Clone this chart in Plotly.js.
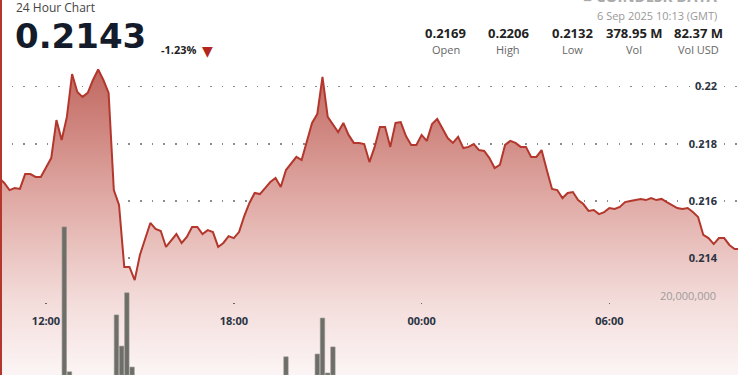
<!DOCTYPE html>
<html>
<head>
<meta charset="utf-8">
<script src="https://cdn.plot.ly/plotly-3.0.1.min.js"></script>
<style>
  html, body { margin: 0; padding: 0; background: #fff; }
  #chart { width: 738px; height: 375px; }
</style>
</head>
<body>
<div id="chart"></div>
<script>
// ---- data ----
var startTime = '2025-09-05T10:30:00';
var stepMinutes = 10;
var prices = [
  0.2168, 0.21663, 0.21638, 0.21645, 0.21642, 0.21694, 0.21694, 0.21684, 0.21684, 0.21719,
  0.2175, 0.21883, 0.21813, 0.21894, 0.22044, 0.21981, 0.21964, 0.21978, 0.22023, 0.2206,
  0.22023, 0.21978, 0.21638, 0.21586, 0.21369, 0.21369, 0.21323, 0.21411, 0.2147, 0.21523,
  0.21502, 0.21495, 0.21439, 0.2146, 0.21484, 0.21453, 0.21474, 0.21509, 0.21509, 0.21484,
  0.21498, 0.21491, 0.21439, 0.21453, 0.21477, 0.2147, 0.21491, 0.21547, 0.21593, 0.21628,
  0.21624, 0.21645, 0.21666, 0.2168, 0.21649, 0.21708, 0.21733, 0.21754, 0.21743, 0.21806,
  0.21873, 0.21904, 0.22034, 0.21894, 0.21866, 0.21841, 0.21873, 0.21831, 0.21803, 0.21803,
  0.21799, 0.21736, 0.21789, 0.21859, 0.21859, 0.21789, 0.21873, 0.21876, 0.21827, 0.21796,
  0.21796, 0.21831, 0.2181, 0.21869, 0.21887, 0.21855, 0.2182, 0.21803, 0.21824, 0.21785,
  0.21789, 0.21799, 0.21778, 0.21775, 0.2175, 0.21715, 0.21726, 0.21796, 0.2181, 0.21803,
  0.21789, 0.21789, 0.21754, 0.21754, 0.21778, 0.21708, 0.21642, 0.21638, 0.2161, 0.21628,
  0.21631, 0.21603, 0.21589, 0.21565, 0.21568, 0.21554, 0.21561, 0.21575, 0.21572, 0.21579,
  0.21596, 0.216, 0.21603, 0.21607, 0.21603, 0.2161, 0.21603, 0.21607, 0.21596, 0.21586,
  0.21575, 0.21572, 0.21575, 0.21561, 0.21544, 0.21481, 0.2147, 0.21449, 0.2147, 0.2147,
  0.21446, 0.21432, 0.21432
];
var volTimes = [
  '2025-09-05 12:35', '2025-09-05 12:45', '2025-09-05 14:15', '2025-09-05 14:25',
  '2025-09-05 14:35', '2025-09-05 14:45', '2025-09-05 19:40', '2025-09-05 20:40',
  '2025-09-05 20:50', '2025-09-05 21:00', '2025-09-05 21:10'
];
var volumes = [37.5e6, 0.8e6, 15.2e6, 7.3e6, 20.8e6, 2.0e6, 4.6e6, 5.3e6, 14.4e6, 0.5e6, 7.1e6];

var xTickVals = ['2025-09-05 12:00', '2025-09-05 18:00', '2025-09-06 00:00', '2025-09-06 06:00'];
var xTickText = ['12:00', '18:00', '00:00', '06:00'];
var priceTickVals = [0.214, 0.216, 0.218, 0.22];
var priceTickText = ['0.214', '0.216', '0.218', '0.22'];
var volTickVals = [20000000];
var volTickText = ['20,000,000'];

var statValues = ['0.2169', '0.2206', '0.2132', '378.95 M', '82.37 M'];
var statLabels = ['Open', 'High', 'Low', 'Vol', 'Vol USD'];
var headerTitle = '24 Hour Chart';
var currentPrice = '0.2143';
var changePct = '-1.23%';
var dateText = '6 Sep 2025 10:13 (GMT)';
var logoText = '\u25A0 COINDESK DATA';

// ---- build ----
var t0 = new Date(startTime + 'Z').getTime();
function fmt(ms) {
  var d = new Date(ms);
  function p(n) { return (n < 10 ? '0' : '') + n; }
  return d.getUTCFullYear() + '-' + p(d.getUTCMonth() + 1) + '-' + p(d.getUTCDate()) + ' ' +
         p(d.getUTCHours()) + ':' + p(d.getUTCMinutes());
}
var times = prices.map(function (_, i) { return fmt(t0 + i * stepMinutes * 60000); });

var W = 738, H = 375;
function px(x) { return x / W; }
function py(y) { return 1 - y / H; }

var yRange = [0.20991, 0.22303];

var priceTrace = {
  type: 'scatter', mode: 'lines', x: times, y: prices,
  line: { color: '#b3372c', width: 2 },
  fill: 'tozeroy',
  fillgradient: {
    type: 'vertical',
    start: yRange[0], stop: 0.2207,
    colorscale: [[0, '#fcf5f5'], [0.24, '#f3dcda'], [0.57, '#e0aaa5'], [1, '#c0665e']]
  },
  hoverinfo: 'skip'
};
var volTrace = {
  type: 'bar', x: volTimes, y: volumes, yaxis: 'y2',
  width: 500000,
  marker: { color: '#6e6e68', line: { width: 0.6, color: '#8f8f8a' } },
  hoverinfo: 'skip'
};

var gridDash = '1.5px,10.17px';
var anns = [];
anns.push({ text: headerTitle, x: px(15), y: py(7), xanchor: 'left', yanchor: 'middle', borderpad: 0,
  font: { family: 'Open Sans', size: 12, color: '#444' } });
anns.push({ text: '<b>' + currentPrice + '</b>', x: px(13), y: py(36), xanchor: 'left', yanchor: 'middle',
  font: { family: 'DejaVu Sans', size: 34, color: '#141c2b' } });
anns.push({ text: '<b>' + changePct + '</b>', x: px(159), y: py(50), xanchor: 'left', yanchor: 'middle',
  font: { family: 'Open Sans', size: 11, color: '#222' } });
anns.push({ text: '\u25BC', x: px(207.5), y: py(50.5), xanchor: 'center', yanchor: 'middle',
  font: { family: 'DejaVu Sans', size: 14, color: '#b3261e' } });
var statX = [445.5, 508.5, 572, 634, 698];
for (var i = 0; i < statValues.length; i++) {
  anns.push({ text: '<b>' + statValues[i] + '</b>', x: px(statX[i]), y: py(33), xanchor: 'center', yanchor: 'middle',
    font: { family: 'Open Sans', size: 13, color: '#222' } });
  anns.push({ text: statLabels[i], x: px(statX[i]), y: py(50), xanchor: 'center', yanchor: 'middle',
    font: { family: 'Open Sans', size: 11, color: '#666' } });
}
anns.push({ text: dateText, x: px(719), y: py(15.5), xanchor: 'right', yanchor: 'middle',
  font: { family: 'Open Sans', size: 11, color: '#999' } });
anns.push({ text: '<b>' + logoText + '</b>', x: px(719), y: py(-4), xanchor: 'right', yanchor: 'middle',
  font: { family: 'Open Sans', size: 15, color: '#aaa' } });
anns.forEach(function (a) { a.xref = 'paper'; a.yref = 'paper'; a.showarrow = false; });

var layout = {
  width: W, height: H,
  margin: { l: 0, r: 0, t: 0, b: 0, pad: 0 },
  paper_bgcolor: '#ffffff', plot_bgcolor: '#ffffff',
  showlegend: false,
  bargap: 0,
  xaxis: {
    type: 'date',
    range: ['2025-09-05 10:31:48', '2025-09-06 10:06:31'],
    anchor: 'free', position: py(301.5),
    showgrid: false, zeroline: false, showline: false,
    tickmode: 'array', tickvals: xTickVals, ticktext: xTickText,
    ticks: 'outside', ticklen: 1.5, tickwidth: 1.5, tickcolor: '#666',
    ticklabelstandoff: 8,
    tickfont: { family: 'Open Sans', size: 11, color: '#2a3342', weight: 'bold' }
  },
  yaxis: {
    range: yRange, side: 'right', ticklabelposition: 'inside',
    tickmode: 'array', tickvals: priceTickVals, ticktext: priceTickText,
    ticks: '', ticklabelstandoff: 18,
    showgrid: true, gridcolor: '#8c8c8c', gridwidth: 1.5, griddash: gridDash,
    zeroline: false, showline: false,
    tickfont: { family: 'Open Sans', size: 11, color: '#2a3342', weight: 'bold' }
  },
  yaxis2: {
    overlaying: 'y', side: 'right', range: [0, 94.94e6], ticklabelposition: 'inside',
    tickmode: 'array', tickvals: volTickVals, ticktext: volTickText,
    ticks: '', ticklabelstandoff: 19,
    showgrid: true, gridcolor: '#8c8c8c', gridwidth: 1.5, griddash: gridDash,
    zeroline: false, showline: false,
    tickfont: { family: 'Open Sans', size: 11, color: '#a09a9a' }
  },
  shapes: [{
    type: 'line', xref: 'paper', yref: 'paper', x0: px(1), x1: px(1), y0: 0, y1: 1,
    line: { color: '#b3372c', width: 2 }
  }],
  annotations: anns
};

Plotly.newPlot('chart', [priceTrace, volTrace], layout, { staticPlot: true, displayModeBar: false });
</script>
</body>
</html>
